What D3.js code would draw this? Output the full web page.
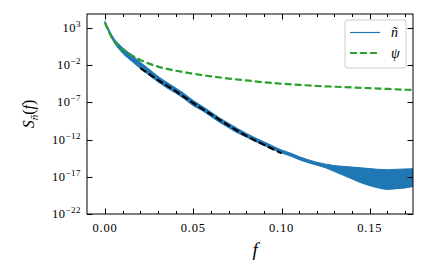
<!DOCTYPE html>
<html>
<head>
<meta charset="utf-8">
<script src="https://cdn.jsdelivr.net/npm/d3@7/dist/d3.min.js"></script>
<style>
  body { margin: 0; background: #fff; }
</style>
</head>
<body>
<script>
// frequencies for the noise band
var bandFreq = [0.000, 0.005, 0.010, 0.015, 0.020, 0.025, 0.030, 0.035, 0.040, 0.045,
                0.050, 0.055, 0.060, 0.065, 0.070, 0.075, 0.080, 0.085, 0.090, 0.095,
                0.100, 0.105, 0.110, 0.115, 0.120, 0.125, 0.130, 0.135, 0.140, 0.145,
                0.150, 0.155, 0.160, 0.165, 0.170, 0.175];
// log10 of upper / lower edge of the n~ spectrum
var bandUpper = [3.9, 1.6, 0.35, -0.6, -1.6, -2.55, -3.5, -4.3, -5.05, -5.85,
                 -6.75, -7.5, -8.3, -9.1, -9.8, -10.5, -11.15, -11.75, -12.3, -12.85,
                 -13.4, -13.8, -14.3, -14.7, -15.05, -15.3, -15.5, -15.6, -15.7, -15.8,
                 -15.9, -16.0, -16.05, -16.0, -15.95, -15.9];
var bandLower = [3.6, 1.1, -0.4, -1.45, -2.45, -3.35, -4.25, -5.05, -5.75, -6.55,
                 -7.45, -8.1, -8.9, -9.7, -10.4, -11.1, -11.65, -12.25, -12.75, -13.3,
                 -13.8, -14.2, -14.7, -15.1, -15.45, -15.8, -16.3, -16.8, -17.3, -17.8,
                 -18.2, -18.5, -18.7, -18.6, -18.5, -18.3];

// psi curve (log10)
var psiFreq = [0.000, 0.0025, 0.005, 0.0075, 0.010, 0.015, 0.020, 0.025, 0.030, 0.035,
               0.040, 0.050, 0.060, 0.070, 0.080, 0.090, 0.100, 0.110, 0.120, 0.130,
               0.140, 0.150, 0.160, 0.170, 0.175];
var psiLog = [3.7, 2.3, 1.3, 0.6, 0.1, -0.65, -1.3, -1.8, -2.2, -2.5,
              -2.75, -3.15, -3.5, -3.8, -4.05, -4.3, -4.5, -4.65, -4.8, -4.9,
              -5.0, -5.1, -5.2, -5.3, -5.35];

// black dashed fit (log10)
var fitFreq = [0.020, 0.030, 0.040, 0.050, 0.060, 0.070, 0.080, 0.090, 0.100];
var fitLog = [-2.4, -4.0, -5.5, -7.1, -8.6, -10.1, -11.5, -12.7, -13.85];

var xMajor = [0.00, 0.05, 0.10, 0.15];
var xMinor = [0.00, 0.01, 0.02, 0.03, 0.04, 0.05, 0.06, 0.07, 0.08, 0.09, 0.10,
              0.11, 0.12, 0.13, 0.14, 0.15, 0.16, 0.17];
var yExps = [3, -2, -7, -12, -17, -22];

var W = 435, H = 269;
var margin = {top: 14, right: 22, bottom: 55, left: 87};
var FONT = "'Liberation Serif', 'DejaVu Serif', serif";

var x = d3.scaleLinear().domain([-0.0102, 0.1745]).range([margin.left, W - margin.right]);
var y = d3.scaleLog().domain([1e-22, Math.pow(10, 4.87)]).range([H - margin.bottom, margin.top]);
function yl(v) { return y(Math.pow(10, v)); }

var svg = d3.select("body").append("svg")
            .attr("width", W).attr("height", H)
            .attr("font-family", FONT);

svg.append("clipPath").attr("id", "clip")
   .append("rect")
   .attr("x", margin.left).attr("y", margin.top)
   .attr("width", W - margin.left - margin.right)
   .attr("height", H - margin.bottom - margin.top);

var plot = svg.append("g").attr("clip-path", "url(#clip)");

// n~ band
var band = bandFreq.map(function(f, i) { return {f: f, hi: bandUpper[i], lo: bandLower[i]}; });
plot.append("path")
    .attr("fill", "#1f77b4")
    .attr("stroke", "#1f77b4")
    .attr("stroke-width", 1)
    .attr("d", d3.area()
        .x(function(d) { return x(d.f); })
        .y0(function(d) { return yl(d.lo); })
        .y1(function(d) { return yl(d.hi); })
        .curve(d3.curveMonotoneX)(band));

// psi
plot.append("path")
    .attr("fill", "none")
    .attr("stroke", "#2ca02c")
    .attr("stroke-width", 2.2)
    .style("stroke-dasharray", "7,3")
    .attr("d", d3.line()
        .x(function(d, i) { return x(psiFreq[i]); })
        .y(function(d) { return yl(d); })
        .curve(d3.curveMonotoneX)(psiLog));

// fit
plot.append("path")
    .attr("fill", "none")
    .attr("stroke", "black")
    .attr("stroke-width", 2.2)
    .style("stroke-dasharray", "7,3")
    .attr("d", d3.line()
        .x(function(d, i) { return x(fitFreq[i]); })
        .y(function(d) { return yl(d); })
        .curve(d3.curveMonotoneX)(fitLog));

// frame
var x0 = margin.left, x1 = W - margin.right, y0 = margin.top, y1 = H - margin.bottom;
svg.append("rect")
   .attr("x", x0).attr("y", y0).attr("width", x1 - x0).attr("height", y1 - y0)
   .attr("fill", "none").attr("stroke", "black").attr("stroke-width", 1);

var ticks = svg.append("g").attr("stroke", "black").attr("stroke-width", 1);
xMinor.forEach(function(v) {
  var px = Math.round(x(v)) + 0.5;
  var major = xMajor.some(function(m) { return Math.abs(m - v) < 1e-9; });
  var len = major ? 5.5 : 3;
  ticks.append("line").attr("x1", px).attr("x2", px).attr("y1", y1).attr("y2", y1 - len);
  ticks.append("line").attr("x1", px).attr("x2", px).attr("y1", y0).attr("y2", y0 + len);
});
yExps.forEach(function(e) {
  var py = Math.round(yl(e)) + 0.5;
  ticks.append("line").attr("x1", x0).attr("x2", x0 + 5.5).attr("y1", py).attr("y2", py);
  ticks.append("line").attr("x1", x1).attr("x2", x1 - 5.5).attr("y1", py).attr("y2", py);
});

// x tick labels
xMajor.forEach(function(v) {
  svg.append("text")
     .attr("x", x(v)).attr("y", y1 + 18)
     .attr("text-anchor", "middle")
     .attr("font-size", 12.5)
     .attr("letter-spacing", 0.8)
     .text(d3.format(".2f")(v));
});

// y tick labels
yExps.forEach(function(e) {
  var t = svg.append("text")
     .attr("x", x0 - 6).attr("y", yl(e) + 4)
     .attr("text-anchor", "end")
     .attr("font-size", 12.5)
     .attr("letter-spacing", 0.5);
  t.append("tspan").text("10");
  t.append("tspan").attr("dy", -5).attr("font-size", 9)
   .text(e < 0 ? "\u2212" + (-e) : String(e));
});

// axis labels
svg.append("text")
   .attr("x", x(0.085)).attr("y", 256)
   .attr("text-anchor", "middle")
   .attr("font-size", 19)
   .attr("font-style", "italic")
   .text("f");

var yLab = svg.append("text")
   .attr("transform", "translate(34," + ((y0 + y1) / 2) + ") rotate(-90)")
   .attr("text-anchor", "middle")
   .attr("font-size", 16);
yLab.append("tspan").attr("font-style", "italic").text("S");
yLab.append("tspan").attr("font-style", "italic").attr("font-size", 11).attr("dy", 4).text("\u00f1");
yLab.append("tspan").attr("dy", -4).text("(");
yLab.append("tspan").attr("font-style", "italic").text("f");
yLab.append("tspan").text(")");

// legend
var lg = svg.append("g");
lg.append("rect")
  .attr("x", 345).attr("y", 20).attr("width", 61).attr("height", 48)
  .attr("rx", 3)
  .attr("fill", "white").attr("fill-opacity", 0.8)
  .attr("stroke", "#cccccc").attr("stroke-width", 1);
lg.append("line")
  .attr("x1", 350).attr("x2", 380).attr("y1", 32.5).attr("y2", 32.5)
  .attr("stroke", "#1f77b4").attr("stroke-width", 1.2);
lg.append("line")
  .attr("x1", 350).attr("x2", 380).attr("y1", 53).attr("y2", 53)
  .attr("stroke", "#2ca02c").attr("stroke-width", 2.2)
  .style("stroke-dasharray", "7,3");
lg.append("text")
  .attr("x", 391).attr("y", 37)
  .attr("font-size", 14).attr("font-style", "italic")
  .text("\u00f1");
lg.append("text")
  .attr("x", 391).attr("y", 58)
  .attr("font-size", 14).attr("font-style", "italic")
  .text("\u03c8");
</script>
</body>
</html>
